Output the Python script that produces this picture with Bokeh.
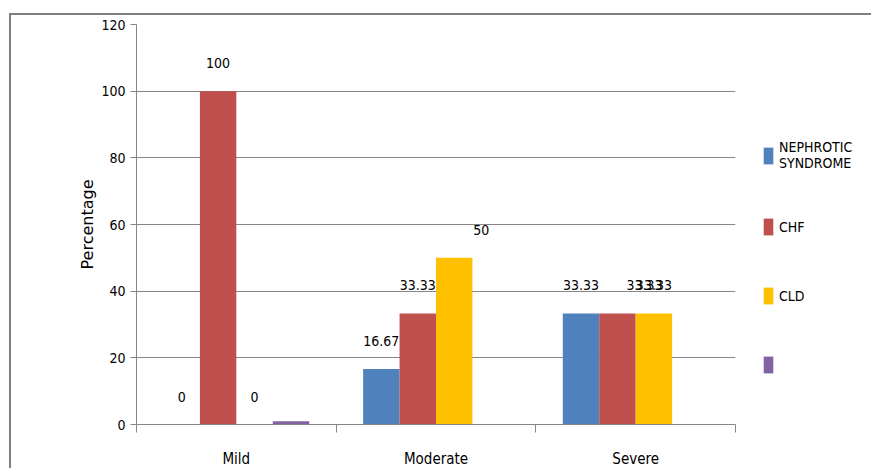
from bokeh.plotting import figure
from bokeh.models import FixedTicker, Legend, LegendItem, Range1d, ColumnDataSource
from bokeh.core.properties import value
from bokeh.embed import file_html
from bokeh.resources import INLINE

# ---------------- data ----------------
categories = ["Mild", "Moderate", "Severe"]
series_names = ["NEPHROTIC\nSYNDROME", "CHF", "CLD", " "]
nephrotic = [0, 16.67, 33.33]
chf = [100, 33.33, 33.33]
cld = [0, 50, 33.33]
unnamed = [1, 0, 0]
y_ticks = [0, 20, 40, 60, 80, 100, 120]

# ---------------- styles ----------------
colors = ["#4F81BD", "#C0504D", "#FFC000", "#8064A2"]
show_labels = [True, True, True, False]
label_shift = [[0, 0, 0], [0, 0, 27], [0, 27, 0], [0, 0, 0]]
FONT = "DejaVu Sans Condensed"
GRID = "#868686"
bar_w = 0.1825

p = figure(frame_width=599, frame_height=400, output_backend="svg",
           toolbar_location=None,
           x_range=Range1d(0, len(categories)), y_range=Range1d(0, 120),
           min_border_left=125, min_border_right=132, min_border_top=9,
           min_border_bottom=43)
p.styles = {"margin-left": "11px", "margin-top": "15px",
            "vertical-align": "top",
            "box-shadow": "-2px -2px 0px 0px #7F7F7F"}
p.outline_line_color = None
p.background_fill_color = "white"
p.border_fill_color = "white"
p.xgrid.visible = False
p.ygrid.grid_line_color = GRID
p.ygrid.grid_line_width = 1
p.ygrid.ticker = FixedTicker(ticks=y_ticks)

all_series = [nephrotic, chf, cld, unnamed]
n = len(all_series)
renderers = []
for k, vals in enumerate(all_series):
    off = (k - (n - 1) / 2) * bar_w
    xs = [i + 0.5 + off for i in range(len(categories))]
    src = ColumnDataSource(dict(x=xs, top=vals))
    r = p.vbar(x="x", top="top", width=bar_w, source=src,
               fill_color=colors[k], line_color=None)
    renderers.append(r)
    if show_labels[k]:
        lsrc = ColumnDataSource(dict(x=xs, y=vals, t=[f"{v:g}" for v in vals],
                                     dx=label_shift[k]))
        p.text(x="x", y="y", text="t", x_offset="dx", y_offset=-28, source=lsrc,
               text_font=value(FONT), text_font_size="14px", text_color="black",
               text_align="center", text_baseline="middle")

# axes
p.yaxis.ticker = FixedTicker(ticks=y_ticks)
p.yaxis.axis_line_color = GRID
p.yaxis.major_tick_line_color = GRID
p.yaxis.major_tick_out = 6
p.yaxis.major_tick_in = 0
p.yaxis.minor_tick_line_color = None
p.yaxis.major_label_text_font = FONT
p.yaxis.major_label_text_font_size = "14px"
p.yaxis.major_label_text_color = "black"
p.yaxis.major_label_standoff = 5
p.yaxis.axis_label = "Percentage"
p.yaxis.axis_label_text_font = "DejaVu Sans"
p.yaxis.axis_label_text_font_size = "16px"
p.yaxis.axis_label_text_font_style = "normal"
p.yaxis.axis_label_text_color = "black"
p.yaxis.axis_label_standoff = 1

centers = [i + 0.5 for i in range(len(categories))]
bounds = list(range(len(categories) + 1))
p.xaxis.ticker = FixedTicker(ticks=centers, minor_ticks=bounds)
p.xaxis.major_label_overrides = {c: name for c, name in zip(centers, categories)}
p.xaxis.axis_line_color = GRID
p.xaxis.major_tick_line_color = None
p.xaxis.major_tick_out = 0
p.xaxis.major_tick_in = 0
p.xaxis.minor_tick_line_color = GRID
p.xaxis.minor_tick_out = 8
p.xaxis.minor_tick_in = 0
p.xaxis.major_label_text_font = FONT
p.xaxis.major_label_text_font_size = "15px"
p.xaxis.major_label_text_color = "black"
p.xaxis.major_label_standoff = 17

legend = Legend(items=[LegendItem(label=series_names[k], renderers=[renderers[k]])
                       for k in range(n)],
                location="top_left", title=" ",
                title_text_font_size="14px", title_standoff=72,
                glyph_width=12, glyph_height=21, label_height=27,
                label_standoff=5, padding=0, margin=27, spacing=42,
                border_line_color=None, background_fill_alpha=0,
                label_text_font=FONT, label_text_font_size="14px",
                label_text_color="black")
p.add_layout(legend, "right")

open("out.html", "w").write(file_html(p, INLINE))
